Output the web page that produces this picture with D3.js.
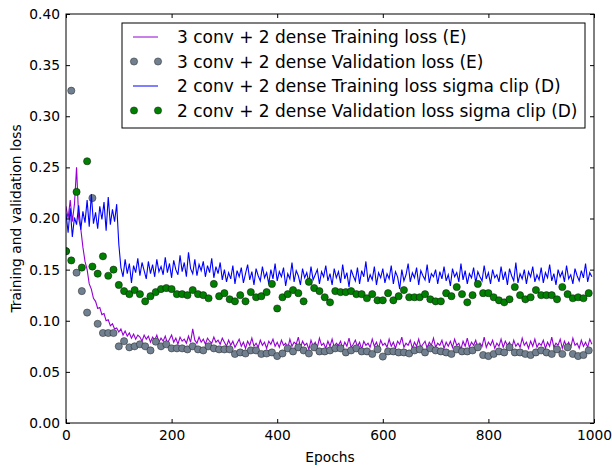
<!DOCTYPE html>
<html><head><meta charset="utf-8">
<script src="https://cdn.jsdelivr.net/npm/d3@7"></script>
<style>
html,body{margin:0;padding:0;background:#fff;}
svg{display:block;font-family:"DejaVu Sans",sans-serif;}
</style></head><body>
<svg id="chart" width="612" height="468"></svg>
<script>
// ---------- data ----------
const xTicks = [0, 200, 400, 600, 800, 1000];
const yTicks = [0.00, 0.05, 0.10, 0.15, 0.20, 0.25, 0.30, 0.35, 0.40];
const trainEpochs = d3.range(0, 1000, 4);   // training loss read every 4 epochs
const valEpochs = d3.range(0, 1000, 10);    // validation loss every 10 epochs

// 3 conv + 2 dense Training loss (E)
const trainE = [
0.212,0.200,0.218,0.197,0.214,0.250,0.200,0.190,0.172,0.158,0.150,0.136,0.131,0.122,0.119,0.112,0.113,0.106,0.107,0.100,0.101,0.095,0.097,0.092,0.093,
0.089,0.092,0.086,0.090,0.085,0.088,0.083,0.087,0.082,0.086,0.084,0.080,0.086,0.082,0.085,0.079,0.084,0.081,0.086,0.079,
0.083,0.080,0.085,0.078,0.082,0.086,0.079,0.083,0.077,0.084,0.080,0.082,0.078,0.085,0.079,0.092,0.081,0.078,0.084,0.079,
0.082,0.077,0.083,0.080,0.078,0.084,0.079,0.081,0.077,0.083,
0.079,0.075,0.081,0.076,0.080,0.074,0.078,0.082,0.075,0.079,0.073,0.080,0.076,0.083,0.075,0.078,0.074,0.081,0.076,0.079,0.073,0.080,0.077,0.082,0.075,
0.079,0.074,0.081,0.076,0.078,0.073,0.082,0.075,0.079,0.077,0.084,0.074,0.080,0.076,0.078,0.072,0.081,0.075,0.079,0.074,0.083,0.076,0.078,0.073,0.080,
0.075,0.082,0.074,0.078,0.076,0.080,0.073,0.079,0.075,0.083,0.074,0.077,0.081,0.075,0.079,0.072,0.080,0.076,0.078,0.074,0.082,0.075,0.079,0.073,0.081,
0.076,0.078,0.074,0.082,0.075,0.079,0.073,0.080,0.077,0.084,0.074,0.078,0.076,0.081,0.073,0.079,0.075,0.082,0.074,0.077,0.080,0.073,0.079,0.076,0.083,
0.074,0.078,0.076,0.081,0.073,0.079,0.075,0.080,0.074,0.082,0.076,0.078,0.072,0.080,0.075,0.083,0.074,0.079,0.076,0.081,0.073,0.078,0.075,0.084,0.074,
0.079,0.076,0.081,0.073,0.078,0.075,0.082,0.074,0.080,0.076,0.079,0.072,0.081,0.075,0.078,0.074,0.083,0.076,0.079,0.073,0.080,0.075,0.082,0.074,0.078,
0.076,0.081,0.073,0.079,0.075,0.084,0.074,0.078,0.076,0.082,0.073,0.080,0.075,0.079,0.074,0.083,0.076,0.078,0.073,0.081,0.075,0.079,0.074,0.082,0.077
];
// 3 conv + 2 dense Validation loss (E)
const valE = [
0.168,0.325,0.147,0.129,0.108,0.220,0.097,0.088,0.088,0.088,
0.075,0.080,0.074,0.075,0.077,0.075,0.071,0.0795,0.075,0.077,
0.073,0.073,0.073,0.072,0.075,0.072,0.071,0.075,0.073,0.072,
0.072,0.072,0.0675,0.069,0.068,0.071,0.071,0.0675,0.068,0.069,
0.0655,0.068,0.073,0.070,0.074,0.071,0.068,0.074,0.070,0.070,
0.071,0.073,0.073,0.069,0.071,0.073,0.070,0.070,0.0675,0.072,
0.065,0.070,0.070,0.069,0.069,0.068,0.071,0.072,0.069,0.073,
0.071,0.070,0.069,0.0675,0.072,0.070,0.070,0.071,0.074,0.0665,
0.0655,0.0675,0.070,0.069,0.074,0.069,0.069,0.0675,0.0665,0.069,
0.071,0.069,0.0675,0.072,0.0675,0.074,0.0675,0.0655,0.0665,0.071
];
// 2 conv + 2 dense Training loss sigma clip (D)
const trainD = [
0.205,0.186,0.210,0.182,0.201,0.194,0.213,0.189,0.207,0.196,0.218,0.192,0.224,0.195,0.206,0.190,0.212,0.199,0.216,0.188,0.221,0.194,0.209,0.197,0.214,
0.175,0.152,0.143,0.160,0.146,0.156,0.137,0.154,0.147,0.161,0.144,0.157,0.149,0.141,0.158,0.146,0.155,0.143,0.160,0.148,
0.153,0.145,0.162,0.147,0.156,0.142,0.159,0.150,0.145,0.164,0.148,0.157,0.143,0.167,0.151,0.146,0.160,0.144,0.155,0.149,
0.158,0.143,0.154,0.147,0.161,0.142,0.153,0.146,0.157,0.140,
0.150,0.138,0.147,0.141,0.154,0.136,0.149,0.143,0.152,0.137,0.146,0.155,0.140,0.148,0.135,0.151,0.144,0.139,0.153,0.142,0.147,0.136,0.150,0.141,0.156,
0.139,0.148,0.143,0.152,0.134,0.146,0.141,0.157,0.138,0.149,0.144,0.135,0.151,0.142,0.147,0.137,0.153,0.140,0.145,0.150,0.136,0.148,0.143,0.154,0.139,
0.146,0.135,0.151,0.142,0.148,0.137,0.155,0.141,0.147,0.133,0.150,0.144,0.139,0.152,0.136,0.149,0.143,0.158,0.138,0.145,0.140,0.153,0.135,0.147,0.142,
0.151,0.137,0.146,0.141,0.154,0.136,0.148,0.143,0.131,0.150,0.139,0.145,0.156,0.138,0.147,0.142,0.152,0.135,0.149,0.144,0.140,0.155,0.137,0.146,0.143,
0.150,0.136,0.148,0.141,0.153,0.139,0.145,0.134,0.151,0.143,0.147,0.138,0.156,0.140,0.149,0.136,0.146,0.142,0.152,0.137,0.148,0.143,0.139,0.154,0.141,
0.147,0.136,0.150,0.142,0.145,0.138,0.153,0.140,0.148,0.135,0.151,0.144,0.139,0.157,0.137,0.146,0.141,0.150,0.136,0.148,0.143,0.153,0.138,0.145,0.140,
0.152,0.137,0.147,0.142,0.155,0.139,0.146,0.135,0.150,0.143,0.148,0.138,0.154,0.141,0.145,0.136,0.151,0.144,0.139,0.149,0.142,0.156,0.138,0.147,0.143
];
// 2 conv + 2 dense Validation loss sigma clip (D)
const valD = [
0.168,0.159,0.226,0.152,0.256,0.153,0.146,0.163,0.144,0.150,
0.135,0.129,0.126,0.130,0.126,0.119,0.124,0.128,0.131,0.132,
0.131,0.126,0.126,0.125,0.130,0.126,0.125,0.122,0.136,0.124,
0.127,0.121,0.119,0.125,0.119,0.128,0.123,0.124,0.128,0.136,
0.112,0.123,0.126,0.130,0.127,0.119,0.138,0.132,0.129,0.123,
0.118,0.129,0.128,0.128,0.129,0.126,0.126,0.122,0.126,0.120,
0.120,0.127,0.120,0.124,0.130,0.123,0.123,0.123,0.126,0.121,
0.119,0.119,0.127,0.124,0.133,0.126,0.118,0.125,0.136,0.127,
0.127,0.123,0.120,0.118,0.121,0.133,0.125,0.121,0.123,0.130,
0.125,0.125,0.125,0.121,0.133,0.126,0.122,0.123,0.122,0.127
];
const legendLabels = [
  "3 conv + 2 dense Training loss (E)",
  "3 conv + 2 dense Validation loss (E)",
  "2 conv + 2 dense Training loss sigma clip (D)",
  "2 conv + 2 dense Validation loss sigma clip (D)"
];
const xLabel = "Epochs";
const yLabel = "Training and validation loss";

// ---------- layout ----------
const svg = d3.select("#chart");
const L = 66, T = 14, R = 594, B = 423;
const x = d3.scaleLinear().domain([0, 1000]).range([L, R]);
const y = d3.scaleLinear().domain([0, 0.4]).range([B, T]);
const FS = 13.8;
const purple = "#9400D3", gray = "#708090", blue = "#0000FF", green = "#008000";

svg.append("rect").attr("width", 612).attr("height", 468).attr("fill", "#fff");

svg.append("clipPath").attr("id", "clip")
  .append("rect").attr("x", L).attr("y", T).attr("width", R - L).attr("height", B - T);

const plot = svg.append("g").attr("clip-path", "url(#clip)");

const line = d3.line().x(d => x(d[0])).y(d => y(d[1]));

// purple training line
plot.append("path").datum(trainEpochs.map((e, i) => [e, trainE[i]]))
  .attr("d", line).attr("fill", "none").attr("stroke", purple).attr("stroke-width", 1.1);

// gray validation dots
plot.append("g").selectAll("circle").data(valEpochs.map((e, i) => [e, valE[i]]))
  .join("circle").attr("cx", d => x(d[0])).attr("cy", d => y(d[1])).attr("r", 3.6)
  .attr("fill", gray).attr("stroke", "#222").attr("stroke-width", 0.5);

// blue training line
plot.append("path").datum(trainEpochs.map((e, i) => [e, trainD[i]]))
  .attr("d", line).attr("fill", "none").attr("stroke", blue).attr("stroke-width", 1.1);

// green validation dots
plot.append("g").selectAll("circle").data(valEpochs.map((e, i) => [e, valD[i]]))
  .join("circle").attr("cx", d => x(d[0])).attr("cy", d => y(d[1])).attr("r", 3.6)
  .attr("fill", green).attr("stroke", "#111").attr("stroke-width", 0.5);

// ---------- axes ----------
function styleAxis(g) {
  g.select(".domain").remove();
  g.selectAll(".tick line").attr("stroke", "#000").attr("stroke-width", 1);
  g.selectAll(".tick text").attr("fill", "#000").attr("font-size", FS)
    .attr("font-family", '"DejaVu Sans",sans-serif');
}
svg.append("g").attr("transform", `translate(0,${B})`)
  .call(d3.axisBottom(x).tickValues(xTicks).tickFormat(d3.format("d")).tickSizeInner(-4).tickSizeOuter(0).tickPadding(7))
  .call(styleAxis);
svg.append("g").attr("transform", `translate(0,${T})`)
  .call(d3.axisTop(x).tickValues(xTicks).tickFormat("").tickSizeInner(-4).tickSizeOuter(0))
  .call(styleAxis);
svg.append("g").attr("transform", `translate(${L},0)`)
  .call(d3.axisLeft(y).tickValues(yTicks).tickFormat(d3.format(".2f")).tickSizeInner(-4).tickSizeOuter(0).tickPadding(6))
  .call(styleAxis);
svg.append("g").attr("transform", `translate(${R},0)`)
  .call(d3.axisRight(y).tickValues(yTicks).tickFormat("").tickSizeInner(-4).tickSizeOuter(0))
  .call(styleAxis);

// frame
svg.append("rect").attr("x", L).attr("y", T).attr("width", R - L).attr("height", B - T)
  .attr("fill", "none").attr("stroke", "#000").attr("stroke-width", 1);

// axis labels
svg.append("text").attr("x", (L + R) / 2).attr("y", 462).attr("text-anchor", "middle")
  .attr("font-size", FS).attr("fill", "#000").text(xLabel);
svg.append("text").attr("transform", `translate(21,${(T + B) / 2}) rotate(-90)`)
  .attr("text-anchor", "middle").attr("font-size", FS).attr("fill", "#000").text(yLabel);

// ---------- legend ----------
const lg = svg.append("g");
const lgX = 122, lgY = 23, lgW = 463, lgH = 105;
lg.append("rect").attr("x", lgX).attr("y", lgY).attr("width", lgW).attr("height", lgH)
  .attr("fill", "#fff").attr("stroke", "#000").attr("stroke-width", 1);
const legendKinds = [
  {type: "line", color: purple},
  {type: "dot", color: gray, edge: "#222"},
  {type: "line", color: blue},
  {type: "dot", color: green, edge: "#111"}
];
const rowY = d3.scalePoint().domain(d3.range(legendLabels.length)).range([37, 110.5]);
legendLabels.forEach((lab, i) => {
  const cy = rowY(i);
  const k = legendKinds[i];
  if (k.type === "line") {
    lg.append("line").attr("x1", 133).attr("x2", 158).attr("y1", cy).attr("y2", cy)
      .attr("stroke", k.color).attr("stroke-width", 1);
  } else {
    [134, 158].forEach(cx => lg.append("circle").attr("cx", cx).attr("cy", cy).attr("r", 3.6)
      .attr("fill", k.color).attr("stroke", k.edge).attr("stroke-width", 0.5));
  }
  lg.append("text").attr("x", 177).attr("y", cy).attr("dy", "0.36em")
    .attr("font-size", 17).attr("fill", "#000").text(lab);
});
</script>
</body></html>
